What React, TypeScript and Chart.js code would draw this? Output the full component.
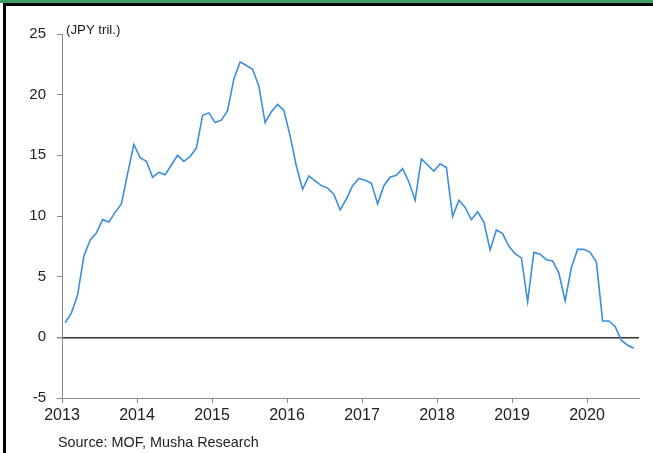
import React, { useEffect, useRef } from "react";
import { Chart, registerables } from "chart.js";

Chart.register(...registerables);

const yearLabels = ["2013", "2014", "2015", "2016", "2017", "2018", "2019", "2020"];

const values2013 = [1.2, 2.0, 3.5, 6.7, 8.0, 8.6, 9.7, 9.5, 10.3, 11.0, 13.5, 15.9];
const values2014 = [14.8, 14.5, 13.2, 13.6, 13.4, 14.2, 15.0, 14.5, 14.9, 15.6, 18.3, 18.5];
const values2015 = [17.7, 17.9, 18.7, 21.3, 22.7, 22.4, 22.1, 20.7, 17.7, 18.6, 19.2, 18.7];
const values2016 = [16.6, 14.1, 12.2, 13.3, 12.9, 12.5, 12.3, 11.8, 10.5, 11.4, 12.5, 13.1];
const values2017 = [12.95, 12.7, 11.0, 12.5, 13.2, 13.35, 13.9, 12.8, 11.3, 14.7, 14.2, 13.7];
const values2018 = [14.3, 14.0, 9.95, 11.3, 10.7, 9.7, 10.35, 9.5, 7.2, 8.85, 8.55, 7.5];
const values2019 = [6.9, 6.55, 2.95, 7.0, 6.85, 6.4, 6.3, 5.3, 3.0, 5.75, 7.25, 7.25];
const values2020 = [7.0, 6.2, 1.35, 1.35, 0.9, -0.25, -0.65, -0.9];

const monthlyValues = [
  ...values2013,
  ...values2014,
  ...values2015,
  ...values2016,
  ...values2017,
  ...values2018,
  ...values2019,
  ...values2020,
];

const FONT = "'Liberation Sans', Arial, sans-serif";

export default function App() {
  const canvasRef = useRef<HTMLCanvasElement | null>(null);

  useEffect(() => {
    const canvas = canvasRef.current;
    if (!canvas) return;
    const points = monthlyValues.map((v, i) => ({ x: i + 0.5, y: v }));
    const chart = new Chart(canvas, {
      type: "line",
      data: {
        datasets: [
          {
            data: points,
            borderColor: "#3b8ed7",
            borderWidth: 1.6,
            pointRadius: 0,
            tension: 0,
            fill: false,
          },
        ],
      },
      options: {
        animation: false,
        responsive: false,
        maintainAspectRatio: false,
        layout: { padding: { top: 34, right: 14, left: 0, bottom: 0 } },
        plugins: { legend: { display: false }, tooltip: { enabled: false } },
        scales: {
          x: {
            type: "linear",
            min: 0,
            max: 92.32,
            afterBuildTicks: (s: any) => {
              s.ticks = yearLabels.map((_, i) => ({ value: i * 12 }));
            },
            afterFit: (s: any) => {
              s.height = 55;
            },
            ticks: {
              autoSkip: false,
              maxRotation: 0,
              padding: 3,
              color: "#222",
              font: { family: FONT, size: 16 },
              callback: (v: any) => yearLabels[Math.round(Number(v) / 12)],
            },
            grid: {
              drawOnChartArea: false,
              drawTicks: true,
              tickLength: 5,
              color: "#8a8a8a",
            },
            border: { display: true, color: "#8a8a8a", width: 1 },
          },
          y: {
            min: -5,
            max: 25,
            afterFit: (s: any) => {
              s.width = 62;
            },
            ticks: {
              stepSize: 5,
              padding: 11,
              color: "#222",
              font: { family: FONT, size: 15 },
            },
            grid: {
              drawOnChartArea: true,
              drawTicks: true,
              tickLength: 5,
              tickColor: "#8a8a8a",
              color: (ctx: any) =>
                ctx.tick && ctx.tick.value === 0 ? "#333333" : "rgba(0,0,0,0)",
              lineWidth: (ctx: any) => (ctx.tick && ctx.tick.value === 0 ? 1.5 : 1),
            },
            border: { display: true, color: "#8a8a8a", width: 1 },
          },
        },
      },
    });
    return () => chart.destroy();
  }, []);

  return (
    <div
      style={{
        position: "fixed",
        left: 0,
        top: 0,
        width: 653,
        height: 453,
        background: "#ffffff",
        overflow: "hidden",
        fontFamily: FONT,
      }}
    >
      <div style={{ position: "absolute", left: 0, top: 0, width: 653, height: 3, background: "#3c9c62" }} />
      <div style={{ position: "absolute", left: 3, top: 3, width: 650, height: 3, background: "#000" }} />
      <div style={{ position: "absolute", left: 3, top: 3, width: 3, height: 450, background: "#000" }} />
      <canvas
        ref={canvasRef}
        width={653}
        height={453}
        style={{ position: "absolute", left: 0, top: 0, width: 653, height: 453 }}
      />
      <div
        style={{
          position: "absolute",
          left: 66,
          top: 23,
          fontSize: 13.3,
          lineHeight: 1,
          color: "#222",
          whiteSpace: "nowrap",
        }}
      >
        (JPY tril.)
      </div>
      <div
        style={{
          position: "absolute",
          left: 58,
          top: 435,
          fontSize: 14.4,
          lineHeight: 1,
          color: "#222",
          whiteSpace: "nowrap",
        }}
      >
        Source: MOF, Musha Research
      </div>
    </div>
  );
}
